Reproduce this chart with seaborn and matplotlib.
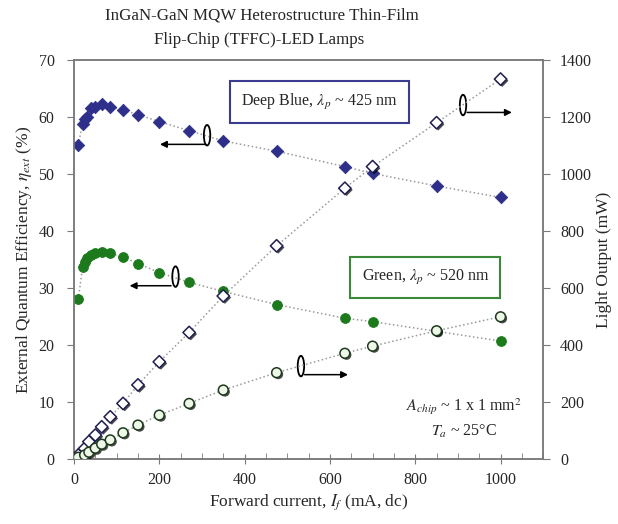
import numpy as np
import pandas as pd
import matplotlib
matplotlib.use('Agg')
import matplotlib.pyplot as plt
import matplotlib.patheffects as pe
from matplotlib.patches import Ellipse
from matplotlib.ticker import MultipleLocator
import seaborn as sns

# forward current (mA) for the efficiency curves
current_eqe = [10, 20, 25, 30, 40, 50, 65, 85, 115, 150, 200, 270, 350, 475, 635, 700, 850, 1000]
blue_eqe = [55.1, 58.8, 59.6, 60.0, 61.5, 61.8, 62.2, 61.8, 61.2, 60.4, 59.2, 57.6, 55.8, 54.0, 51.3, 50.1, 47.9, 45.9]
green_eqe = [28.0, 33.6, 34.6, 35.2, 35.8, 36.2, 36.4, 36.1, 35.4, 34.3, 32.7, 31.0, 29.4, 27.1, 24.7, 24.1, 22.4, 20.7]

# forward current (mA) for the light output curves
current_lop = [10, 25, 35, 50, 65, 85, 115, 150, 200, 270, 350, 475, 635, 700, 850, 1000]
blue_lop = [14, 37, 61, 84, 113, 148, 195, 260, 341, 444, 572, 748, 950, 1026, 1180, 1333]
green_lop = [6, 14, 24, 38, 52, 67, 92, 119, 154, 195, 242, 303, 371, 396, 450, 499]

eqe = pd.DataFrame({'current': current_eqe, 'blue': blue_eqe, 'green': green_eqe})
lop = pd.DataFrame({'current': current_lop, 'blue': blue_lop, 'green': green_lop})

sns.set_style('ticks')
plt.rcParams['font.family'] = ['Liberation Serif', 'DejaVu Serif']
plt.rcParams['mathtext.fontset'] = 'stix'

navy = '#2e2f8a'
dgreen = '#1c7a1c'
dotc = '#9a9a9a'
spc = '#7a7a7a'

fig = plt.figure(figsize=(6.18, 5.24), dpi=100)
ax1 = fig.add_axes([0.1197, 0.124, 0.7593, 0.7615])
ax2 = ax1.twinx()

shadow = [pe.SimplePatchShadow(offset=(1.2, -1.2), shadow_rgbFace='k', alpha=0.7), pe.Normal()]

# efficiency (left axis)
sns.lineplot(data=eqe, x='current', y='blue', ax=ax1, color=dotc, linestyle=':', lw=1.1)
sns.scatterplot(data=eqe, x='current', y='blue', ax=ax1, marker='D', s=40, color=navy,
                edgecolor=navy, linewidth=0.6, zorder=4)
sns.lineplot(data=eqe, x='current', y='green', ax=ax1, color=dotc, linestyle=':', lw=1.1)
sns.scatterplot(data=eqe, x='current', y='green', ax=ax1, marker='o', s=50, color=dgreen,
                edgecolor=dgreen, linewidth=0.6, zorder=4)

# light output (right axis)
sns.lineplot(data=lop, x='current', y='blue', ax=ax2, color=dotc, linestyle=':', lw=1.1)
sns.scatterplot(data=lop, x='current', y='blue', ax=ax2, marker='D', s=40, color='white',
                edgecolor='#1e1e50', linewidth=1.1, zorder=4)
sns.lineplot(data=lop, x='current', y='green', ax=ax2, color=dotc, linestyle=':', lw=1.1)
sns.scatterplot(data=lop, x='current', y='green', ax=ax2, marker='o', s=50, color='#eef7e8',
                edgecolor='#1e3a1e', linewidth=1.1, zorder=4)
for c in ax2.collections:
    c.set_path_effects(shadow)

# axes ranges and ticks
ax1.set_xlim(0, 1100)
ax1.set_ylim(0, 70)
ax2.set_ylim(0, 1400)
ax1.set_xticks([0, 200, 400, 600, 800, 1000])
ax1.xaxis.set_minor_locator(MultipleLocator(50))
ax1.yaxis.set_major_locator(MultipleLocator(10))
ax2.yaxis.set_major_locator(MultipleLocator(200))
ax1.tick_params(axis='x', which='major', direction='inout', length=7, color=spc, labelsize=11.5, pad=6)
ax1.tick_params(axis='x', which='minor', direction='in', length=4, color=spc)
ax1.tick_params(axis='y', direction='out', length=5, color=spc, labelsize=11.5, pad=9)
ax2.tick_params(axis='y', direction='out', length=5, color=spc, labelsize=11.5, pad=7)
for ax in (ax1, ax2):
    for s in ax.spines.values():
        s.set_color(spc)
        s.set_linewidth(1.1)

ax1.set_xlabel(r'Forward current, $I_f$ (mA, dc)', fontsize=12.5, labelpad=3)
ax1.set_ylabel(r'External Quantum Efficiency, $\eta_{ext}$ (%)', fontsize=12.5, labelpad=3)
ax2.set_ylabel('Light Output (mW)', fontsize=12.5, labelpad=3)

fig.text(0.424, 1 - 16 / 524, 'InGaN-GaN MQW Heterostructure Thin-Film',
         ha='center', va='center', fontsize=12.2)
fig.text(0.42, 1 - 40 / 524, 'Flip-Chip (TFFC)-LED Lamps',
         ha='center', va='center', fontsize=12.2)

# labelled boxes
ax1.text(576, 62.6, r'Deep Blue, $\lambda_p$ ~ 425 nm', ha='center', va='center', fontsize=11.5,
         bbox=dict(boxstyle='square,pad=0.7', fc='white', ec='#3b3b8f', lw=1.5), zorder=6)
ax1.text(824, 31.8, r'Green, $\lambda_p$ ~ 520 nm', ha='center', va='center', fontsize=11.5,
         bbox=dict(boxstyle='square,pad=0.7', fc='white', ec='#3a8a3a', lw=1.5), zorder=6)
ax1.text(915, 9.2, r'$A_{chip}$ ~ 1 x 1 mm$^2$', ha='center', va='center', fontsize=11.5)
ax1.text(915, 4.8, r'$T_a$ ~ 25°C', ha='center', va='center', fontsize=11.5)

# axis indicators: ellipse + arrow
marks = [(312, 56.8, 315, 195, 55.2), (912, 62.1, 915, 1033, 60.8),
         (238, 32.0, 234, 124, 30.4), (532, 16.3, 534, 649, 14.8)]
for ex, ey, x0, x1, ay in marks:
    ax1.add_patch(Ellipse((ex, ey), 15, 3.6, fill=False, ec='black', lw=1.3, zorder=6))
    ax1.annotate('', xy=(x1, ay), xytext=(x0, ay),
                 arrowprops=dict(arrowstyle='-|>', color='black', lw=1.1, mutation_scale=10), zorder=6)

fig.savefig('out.png', dpi=100)
